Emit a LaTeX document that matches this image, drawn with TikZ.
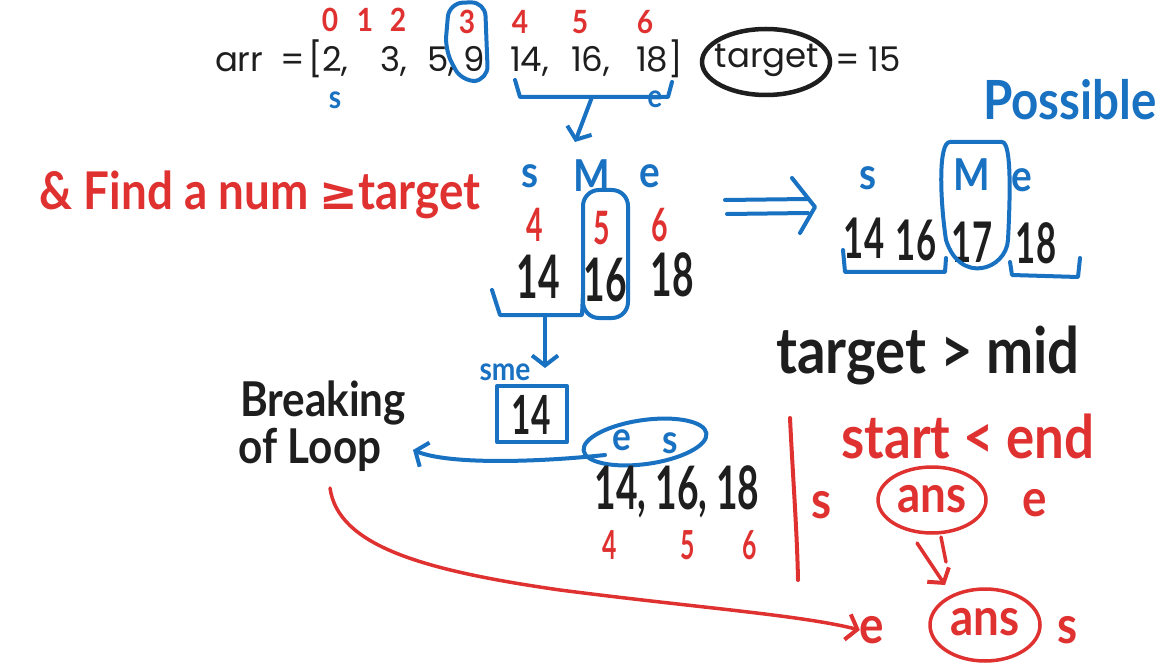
\documentclass[tikz,border=0pt]{standalone}
\usepackage{fontspec}
\setmainfont{Lato}
\newfontfamily\topf{Poppins}
\newfontfamily\hw[FakeStretch=0.62]{Lato}
\newfontfamily\hwt[FakeStretch=0.88]{Lato}
\newfontfamily\symf{DejaVu Sans}
\usetikzlibrary{arrows.meta,shapes.geometric}
\definecolor{myblue}{RGB}{25,113,194}
\definecolor{myred}{RGB}{224,49,49}
\definecolor{myblack}{RGB}{30,30,30}
\newcommand{\fs}[1]{\fontsize{#1}{#1}\selectfont}
\tikzset{
  bl/.style={draw=myblue, line width=4pt, line cap=round, line join=round},
  rd/.style={draw=myred, line width=3.5pt, line cap=round, line join=round},
  bk/.style={draw=myblack, line width=4.5pt, line cap=round, line join=round},
  barb/.style={-{Straight Barb[length=10pt,width=26pt,line width=4pt]}},
  t/.style={inner sep=0pt, outer sep=0pt},
  idx/.style={t, text=myred, font=\hwt\bfseries\fs{32}},
  ridx/.style={t, text=myred, font=\hw\bfseries\fs{46}},
  bvar/.style={t, text=myblue, font=\hwt\bfseries\fs{44}},
  num/.style={t, text=myblack, font=\hw\bfseries\fs{60}},
  hand/.style={t, text=myblack, font=\hwt\bfseries\fs{48}},
  redtxt/.style={t, text=myred, font=\hwt\bfseries\fs{52}},
  toptxt/.style={t, text=myblack, font=\topf\fs{34}, anchor=base west},
}
\begin{document}
\begin{tikzpicture}[x=1pt,y=-1pt]
\useasboundingbox[fill=white] (0,0) rectangle (1164,668);

% ---- top line ----
\node[idx] (i0) at (330,20) {0};
\node[idx] (i1) at (365,20) {1};
\node[idx] (i2) at (398,20) {2};
\node[idx] (i3) at (467,22) {3};
\node[idx] (i4) at (520,22) {4};
\node[idx] (i5) at (580,22) {5};
\node[idx] (i6) at (645,22) {6};
\node[toptxt] (a0) at (215,72) {arr};
\node[toptxt] (a1) at (280,72) {=};
\node[toptxt] (a2) at (308,72) {[2,};
\node[toptxt] (a3) at (380,72) {3,};
\node[toptxt] (a4) at (427,72) {5,};
\node[toptxt] (a5) at (463,72) {9};
\node[toptxt] (a6) at (510,72) {14,};
\node[toptxt] (a7) at (571,72) {16,};
\node[toptxt] (a8) at (636,72) {18]};
\draw[bl, rounded corners=14pt] (449,3) -- (485,2) -- (488,80) -- (462,82) -- (445,50) -- cycle;
\node[t, text=myblue, font=\hwt\bfseries\fs{32}] (s0) at (335,100) {s};
\node[t, text=myblue, font=\hwt\bfseries\fs{32}] (e0) at (655,99) {e};
\node[toptxt, anchor=center] (tg) at (767,60) {target};
\draw[bk] (766,62) ellipse [x radius=64, y radius=33];
\node[toptxt] (eq) at (835,72) {= 15};
\coordinate (br1) at (592,97);
\coordinate (ar1) at (575,142);
\draw[bl] (515,80) -- (520,97) -- (668,97) -- (672,82);
\draw[bl, barb] (br1) -- (ar1);

% ---- left red text ----
\node[t, text=myred, font=\hwt\bfseries\fs{52}] (find) at (260,195) {\& Find a num {\symf\fs{46}≥}target};

% ---- middle group ----
\node[bvar] (s1) at (530,176) {s};
\node[bvar] (m1) at (592,176) {M};
\node[bvar] (e1) at (650,176) {e};
\node[ridx] (r4) at (535,225) {4};
\node[ridx] (r5) at (602,228) {5};
\node[ridx] (r6) at (660,225) {6};
\node[num] (n14) at (538,277) {14};
\node[num] (n16) at (605,280) {16};
\node[num] (n18) at (672,275) {18};
\draw[bl, rounded corners=16pt] (583,190) rectangle (628,318);
\draw[bl] (492,290) -- (500,315) -- (582,315) -- (583,293);
\coordinate (br2) at (545,315);
\draw[bl, barb] (br2) -- (545,368);

% ---- implies ----
\coordinate (imp1) at (725,200);
\coordinate (imp2) at (815,207);
\draw[bl] (imp1) -- (808,199);
\draw[bl] (727,214) -- (808,213);
\draw[bl] (792,178) -- (imp2) -- (800,233);

% ---- right group ----
\node[t, text=myblue, font=\hwt\bfseries\fs{54}] (pos) at (1070,100) {Possible};
\node[bvar] (s2) at (868,178) {s};
\node[bvar] (m2) at (972,175) {M};
\node[bvar] (e2) at (1022,180) {e};
\node[num, font=\hw\bfseries\fs{56}] (a14) at (864,238) {14};
\node[num, font=\hw\bfseries\fs{56}] (a16) at (916,240) {16};
\node[num, font=\hw\bfseries\fs{56}] (a17) at (972,242) {17};
\node[num, font=\hw\bfseries\fs{56}] (a18) at (1036,243) {18};
\draw[bl] (950,142) -- (1002,142) .. controls (1012,142) and (1010,200) .. (1008,240)
  .. controls (1006,270) and (960,285) .. (946,240) .. controls (940,200) and (938,142) .. (950,142) -- cycle;
\draw[bl] (843,250) -- (845,272) -- (945,272) -- (946,258);
\draw[bl] (1010,262) -- (1012,275) -- (1078,277) -- (1080,258);

\node[hand, font=\hwt\bfseries\fs{64}] (tm) at (928,355) {target > mid};

% ---- box group ----
\node[t, text=myblue, font=\hwt\bfseries\fs{32}] (sme) at (505,372) {sme};
\node[num, font=\hw\bfseries\fs{54}] (b14) at (531,415) {14};
\draw[bl] (497,386) rectangle (567,442);
\node[t, text=myblue, font=\hwt\bfseries\fs{40}] (ee) at (622,440) {e};
\node[t, text=myblue, font=\hwt\bfseries\fs{40}] (ss) at (670,443) {s};
\draw[bl, rotate around={8:(645,442)}] (645,442) ellipse [x radius=62, y radius=22];
\coordinate (brk) at (413,450);
\draw[bl, barb] (605,455) .. controls (540,462) and (450,465) .. (brk);

\node[hand] (brk1) at (323,403) {Breaking};
\node[hand] (brk2) at (310,450) {of Loop};
\node[num] (lst) at (677,492) {14, 16, 18};
\node[ridx, font=\hw\bfseries\fs{40}] (l4) at (610,545) {4};
\node[ridx, font=\hw\bfseries\fs{40}] (l5) at (688,545) {5};
\node[ridx, font=\hw\bfseries\fs{40}] (l6) at (750,545) {6};

% ---- right bottom red ----
\draw[rd, line width=4pt] (790,418) .. controls (793,480) and (797,530) .. (798,580);
\node[redtxt, font=\hwt\bfseries\fs{60}] (se) at (968,436) {start < end};
\node[redtxt] (rs1) at (822,505) {s};
\node[redtxt] (ans1) at (932,499) {ans};
\draw[rd] (932,500) ellipse [x radius=54, y radius=33];
\node[redtxt] (re1) at (1035,503) {e};
\node[redtxt] (re2) at (872,630) {e};
\node[redtxt] (ans2) at (985,622) {ans};
\draw[rd] (985,625) ellipse [x radius=55, y radius=36];
\node[redtxt] (rs2) at (1068,630) {s};
\draw[rd, barb] (917,543) -- (945,585);
\draw[rd] (941,537) -- (946,562);
\coordinate (cst) at (330,488);
\draw[rd, barb] (cst) .. controls (338,545) and (420,570) .. (560,590) .. controls (700,608) and (800,615) .. (re2.west);
\end{tikzpicture}
\end{document}
